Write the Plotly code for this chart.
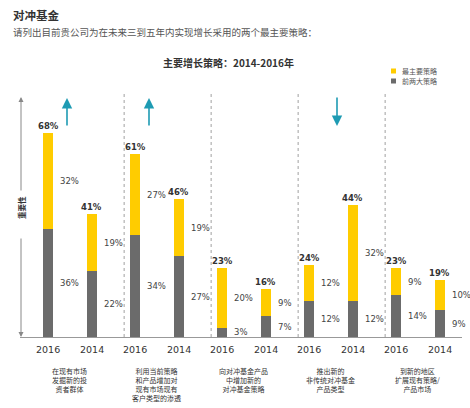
import plotly.graph_objects as go

# ---- data ----
categories = ["在现有市场<br>发掘新的投<br>资者群体",
              "利用当前策略<br>和产品增加对<br>现有市场现有<br>客户类型的渗透",
              "向对冲基金产品<br>中增加新的<br>对冲基金策略",
              "推出新的<br>非传统对冲基金<br>产品类型",
              "到新的地区<br>扩展现有策略/<br>产品市场"]
years = ["2016", "2014"]
top_strategy = [32, 19, 27, 19, 20, 9, 12, 32, 9, 10]      # 最主要策略 (yellow)
top_two = [36, 22, 34, 27, 3, 7, 12, 12, 14, 9]            # 前两大策略 (gray)
totals = [68, 41, 61, 46, 23, 16, 24, 44, 23, 19]
trend = ["up", "up", None, "down", None]
series_names = ["最主要策略", "前两大策略"]

YELLOW = "#FFCC00"
GRAY = "#6B6B6B"
TEAL = "#1E9BB3"
CJK = "Noto Sans CJK SC"
LAT = "DejaVu Sans"

W, H = 470, 408
ML, MR, MT, MB = 20, 8, 90, 71
PW, PH = W - ML - MR, H - MT - MB
STEP = 43.5          # px per bar slot
X0PX = 48            # px centre of first bar
PXPCT = 3.0          # px per percent

x_lo = -(X0PX - ML) / STEP
x_hi = x_lo + PW / STEP
y_hi = PH / PXPCT

def px_x(px):
    return (px - ML) / PW

def px_y(py):
    return (H - MB - py) / PH

def dy(py):
    return (H - MB - py) / PXPCT

def dx(px):
    return (px - X0PX) / STEP

xs = list(range(len(totals)))
labels_x = [years[i % 2] for i in xs]

fig = go.Figure()
fig.add_trace(go.Bar(x=xs, y=top_two, name=series_names[1], marker_color=GRAY,
                     width=0.23, marker_line_width=0, showlegend=False))
fig.add_trace(go.Bar(x=xs, y=top_strategy, name=series_names[0], marker_color=YELLOW,
                     width=0.23, marker_line_width=0, showlegend=False))

ann = []
shapes = []
# values
for i in xs:
    g, yv, t = top_two[i], top_strategy[i], totals[i]
    ann.append(dict(x=i, y=t, yshift=7, text=f"<b>{t}%</b>", showarrow=False,
                    font=dict(family=LAT, size=8.5, color="#333333"),
                    xanchor="center", yanchor="middle"))
    ann.append(dict(x=i + 0.23, y=g + yv / 2, text=f"{yv}%", showarrow=False,
                    font=dict(family=LAT, size=8.5, color="#444444"),
                    xanchor="left", yanchor="middle"))
    ann.append(dict(x=i + 0.23, y=max(g / 2, 1.6), text=f"{g}%", showarrow=False,
                    font=dict(family=LAT, size=8.5, color="#444444"),
                    xanchor="left", yanchor="middle"))
    ann.append(dict(x=i, xref="x", yref="paper", y=px_y(349), text=labels_x[i], showarrow=False,
                    font=dict(family=LAT, size=9.5, color="#333333"),
                    xanchor="center", yanchor="middle"))

# category labels
for c, name in enumerate(categories):
    ann.append(dict(x=2 * c + 0.5, xref="x", yref="paper", y=px_y(364), text=name,
                    showarrow=False, font=dict(family=CJK, size=7, color="#333333"),
                    xanchor="center", yanchor="top", align="center"))

# dividers
for c in range(1, len(categories)):
    xd = 2 * c - 0.25
    shapes.append(dict(type="line", xref="x", yref="y", x0=xd, x1=xd, y0=0, y1=dy(93),
                       line=dict(color="#A0A0A0", width=1, dash="dot")))

# trend arrows
arrow_x = {0: dx(67), 1: dx(149), 3: dx(337)}
for c, tr in enumerate(trend):
    if tr is None:
        continue
    xa = arrow_x[c]
    if tr == "up":
        tip, tail = dy(98), dy(127)
    else:
        tip, tail = dy(126), dy(96)
    ann.append(dict(x=xa, y=tip, ax=xa, ay=tail, xref="x", yref="y", axref="x", ayref="y",
                    text="", showarrow=True, arrowhead=2, arrowsize=1.3, arrowwidth=1.6,
                    arrowcolor=TEAL))

# importance axis
ax_x = dx(21)
ann.append(dict(x=ax_x, y=dy(97), ax=ax_x, ay=dy(192), xref="x", yref="y", axref="x", ayref="y",
                text="", showarrow=True, arrowhead=2, arrowsize=1, arrowwidth=1,
                arrowcolor="#888888"))
ann.append(dict(x=ax_x, y=0, ax=ax_x, ay=dy(237), xref="x", yref="y", axref="x", ayref="y",
                text="", showarrow=True, arrowhead=2, arrowsize=1, arrowwidth=1,
                arrowcolor="#888888"))
ann.append(dict(x=ax_x, y=dy(208), text="<b>重要性</b>", showarrow=False, textangle=-90,
                font=dict(family=CJK, size=7.5, color="#333333"),
                xanchor="center", yanchor="middle"))

# legend (manual)
leg_colors = [YELLOW, GRAY]
for k, (nm, col) in enumerate(zip(series_names, leg_colors)):
    py = 71 + 10 * k
    shapes.append(dict(type="rect", xref="paper", yref="paper",
                       x0=px_x(391), x1=px_x(396), y0=px_y(py + 2.5), y1=px_y(py - 2.5),
                       fillcolor=col, line=dict(width=0)))
    ann.append(dict(xref="paper", yref="paper", x=px_x(400), y=px_y(py), text=nm,
                    showarrow=False, font=dict(family=CJK, size=7, color="#555555"),
                    xanchor="left", yanchor="middle"))

# titles
ann.append(dict(xref="paper", yref="paper", x=px_x(11), y=px_y(15), text="<b>对冲基金</b>",
                showarrow=False, font=dict(family=CJK, size=11.5, color="#333333"),
                xanchor="left", yanchor="middle"))
ann.append(dict(xref="paper", yref="paper", x=px_x(11), y=px_y(32),
                text="请列出目前贵公司为在未来三到五年内实现增长采用的两个最主要策略：",
                showarrow=False, font=dict(family=CJK, size=9.5, color="#555555"),
                xanchor="left", yanchor="middle"))
ann.append(dict(xref="paper", yref="paper", x=px_x(228), y=px_y(63),
                text="<b>主要增长策略：2014-2016年</b>",
                showarrow=False, font=dict(family=CJK, size=10, color="#333333"),
                xanchor="center", yanchor="middle"))

fig.update_layout(
    width=W, height=H, margin=dict(l=ML, r=MR, t=MT, b=MB, autoexpand=False),
    barmode="stack", plot_bgcolor="white", paper_bgcolor="white",
    showlegend=False, annotations=ann, shapes=shapes,
    xaxis=dict(range=[x_lo, x_hi], showgrid=False, zeroline=False, showticklabels=False,
               ticks="", showline=True, linecolor="#999999", linewidth=1.2, fixedrange=True),
    yaxis=dict(range=[0, y_hi], showgrid=False, zeroline=False, showticklabels=False,
               ticks="", showline=False, fixedrange=True),
)
fig.write_html("out.html", config={"displayModeBar": False},
               post_script="document.body.style.margin='0';document.body.style.overflow='hidden';")
